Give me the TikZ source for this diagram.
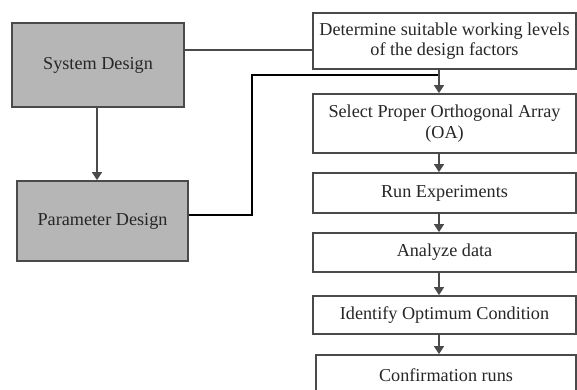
\documentclass[tikz,border=0pt]{standalone}
\usepackage{fontspec}
\setmainfont{Liberation Serif}
\usetikzlibrary{arrows.meta}
\definecolor{boxgray}{HTML}{B6B6B6}
\definecolor{linegray}{HTML}{4A4A4A}
\begin{document}
\begin{tikzpicture}[x=1pt,y=-1pt,
  box/.style={draw=linegray,line width=1.8pt,minimum width=263pt,inner sep=0pt,align=center,font=\fontsize{18.2}{20.5}\selectfont,text=black!85},
  graybox/.style={box,fill=boxgray,minimum width=172pt},
  conn/.style={draw=linegray,line width=1.6pt},
  arr/.style={conn,-{Triangle[length=8pt,width=10pt]}}]
\useasboundingbox (0,0) rectangle (577,389);
\node[graybox,minimum height=84pt] (sys) at (98,65) {System Design};
\node[graybox,minimum width=171pt,minimum height=80pt] (par) at (102.5,221) {Parameter Design};
\node[box,minimum height=56pt] (det) at (444.5,41) {Determine suitable working levels\\of the design factors};
\node[box,minimum height=59pt] (sel) at (444.5,123.5) {Select Proper Orthogonal Array\\(OA)};
\node[box,minimum height=40pt] (run) at (444.5,193) {Run Experiments};
\node[box,minimum height=39pt] (ana) at (444.5,252.5) {Analyze data};
\node[box,minimum height=38pt] (idt) at (444.5,315) {Identify Optimum Condition};
\node[box,minimum width=260pt,minimum height=40pt] (con) at (446,375) {Confirmation runs};
\coordinate (j) at (439,75);
\draw[arr] (sys.south -| 97,0) -- (par.north -| 97,0);
\draw[conn] (sys.east |- 0,50) -- (det.west |- 0,50);
\draw[line width=2.2pt,black] (par.east |- 0,215) -| (252,75) -- (j);
\draw[conn] (det.south -| j) -- (j);
\draw[arr] (j) -- (sel.north -| j);
\draw[arr] (sel.south -| j) -- (run.north -| j);
\draw[arr] (run.south -| j) -- (ana.north -| j);
\draw[arr] (ana.south -| j) -- (idt.north -| j);
\draw[arr] (idt.south -| j) -- (con.north -| j);
\end{tikzpicture}
\end{document}
